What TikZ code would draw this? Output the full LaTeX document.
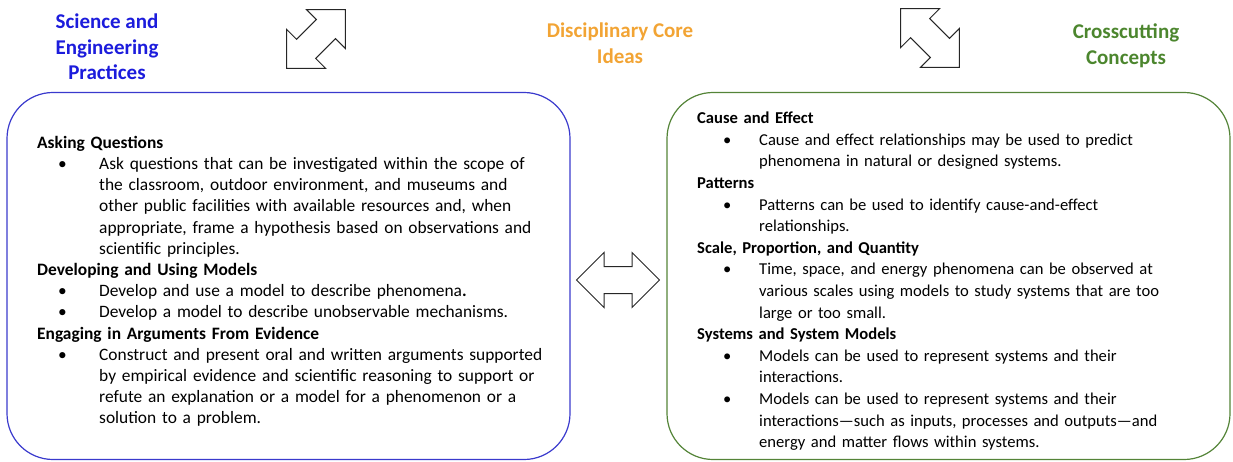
\documentclass[tikz,border=0pt]{standalone}
\usepackage{fontspec}
\setmainfont{Carlito}
\usetikzlibrary{shapes.arrows}

\definecolor{sepblue}{RGB}{28,28,220}
\definecolor{boxblue}{RGB}{58,58,205}
\definecolor{dcigold}{RGB}{242,164,52}
\definecolor{ccgreen}{RGB}{76,134,46}
\definecolor{boxgreen}{RGB}{84,132,56}

% one strand: bold title, then hanging bullet points
\newlength{\bulletskip}
\newcommand{\strandhead}[1]{\par\noindent\textbf{#1}\par}
\newcommand{\stranditem}[1]{\par\noindent\hangindent=62pt\hangafter=1\hspace*{\bulletskip}\makebox[\dimexpr62pt-\bulletskip][l]{\textbullet}#1\par}

\tikzset{
    title/.style={font=\bfseries\fontsize{21}{25.5}\selectfont, align=center},
    strandbox/.style={draw, line width=1.2pt, rounded corners=46pt, minimum width=563pt, minimum height=367pt},
    strandtext/.style={anchor=north west, inner sep=0pt, text width=540pt},
    link/.style={double arrow, draw=black!85, line width=1pt, inner xsep=0pt, inner ysep=13pt,
        minimum height=83pt, double arrow head extend=14pt}
}

\begin{document}
\begin{tikzpicture}[x=1pt, y=-1pt]
    \useasboundingbox (0,0) rectangle (1233,462);

    \node[title, text=sepblue] (practices) at (107,47) {Science and\\Engineering\\Practices};
    \node[title, text=dcigold] (ideas) at (620,43) {Disciplinary Core\\Ideas};
    \node[title, text=ccgreen] (concepts) at (1126,46) {Crosscutting\\Concepts};

    \node[link, rotate=45] (practicesideas) at (316,39) {};
    \node[link, rotate=-45] (ideasconcepts) at (930,38) {};
    \node[link] (practicesconcepts) at (618,280) {};

    \node[strandbox, draw=boxblue] (practicesbox) at (288.5,276) {};
    \node[strandbox, draw=boxgreen] (conceptsbox) at (948.5,276) {};

    \node[strandtext, font=\fontsize{17.4}{21.2}\selectfont] (practicestext) at (37,127) {%
        \setlength{\bulletskip}{21pt}%
        \strandhead{Asking Questions}
        \stranditem{Ask questions that can be investigated within the scope of\newline
            the classroom, outdoor environment, and museums and\newline
            other public facilities with available resources and, when\newline
            appropriate, frame a hypothesis based on observations and\newline
            scientific principles.}
        \strandhead{Developing and Using Models}
        \stranditem{Develop and use a model to describe phenomena\textbf{.}}
        \stranditem{Develop a model to describe unobservable mechanisms.}
        \strandhead{Engaging in Arguments From Evidence}
        \stranditem{Construct and present oral and written arguments supported\newline
            by empirical evidence and scientific reasoning to support or\newline
            refute an explanation or a model for a phenomenon or a\newline
            solution to a problem.}};

    \node[strandtext, font=\fontsize{16.6}{21.6}\selectfont] (conceptstext) at (697,102) {%
        \setlength{\bulletskip}{26pt}%
        \strandhead{Cause and Effect}
        \stranditem{Cause and effect relationships may be used to predict\newline
            phenomena in natural or designed systems.}
        \strandhead{Patterns}
        \stranditem{Patterns can be used to identify cause-and-effect\newline
            relationships.}
        \strandhead{Scale, Proportion, and Quantity}
        \stranditem{Time, space, and energy phenomena can be observed at\newline
            various scales using models to study systems that are too\newline
            large or too small.}
        \strandhead{Systems and System Models}
        \stranditem{Models can be used to represent systems and their\newline
            interactions.}
        \stranditem{Models can be used to represent systems and their\newline
            interactions---such as inputs, processes and outputs---and\newline
            energy and matter flows within systems.}};
\end{tikzpicture}
\end{document}
